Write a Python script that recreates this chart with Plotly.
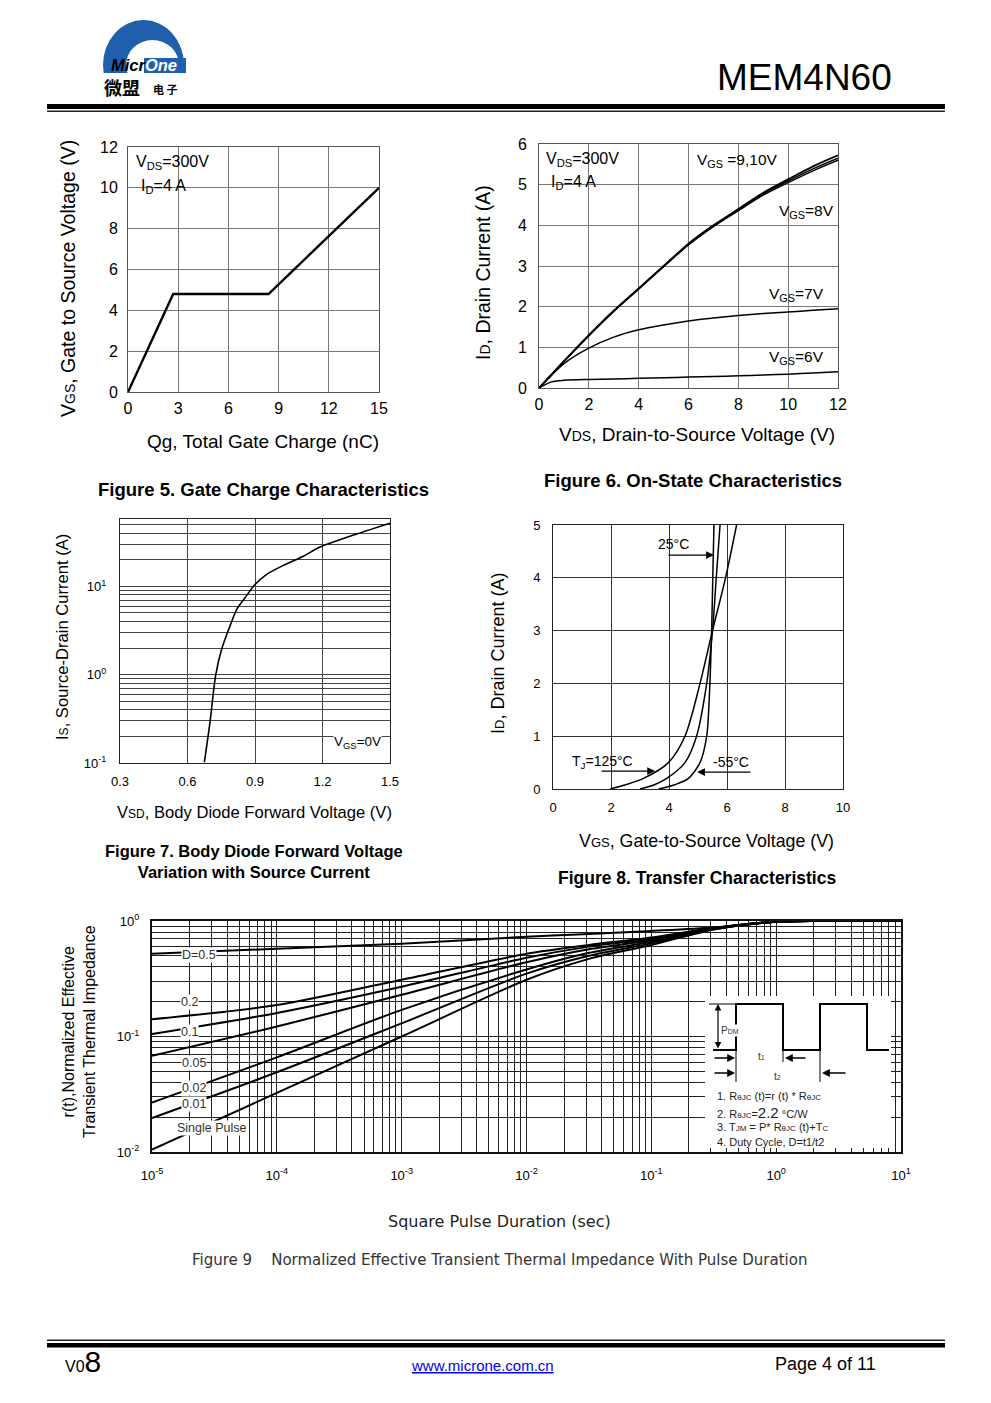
import math
import plotly.graph_objects as go

W, H = 991, 1403
def X(p): return p / W
def Y(p): return 1 - p / H
L10 = math.log10

FONT = "Arial, 'Liberation Sans', sans-serif"
WIDE = "'DejaVu Sans', Verdana, sans-serif"
CJK = "'Noto Sans CJK SC', sans-serif"

# ================= DATA =================
# Figure 5 - gate charge
qg_nc = [0, 2.7, 8.4, 15]
vgs_qg = [0, 4.8, 4.8, 10]
fig5_xticks = [0, 3, 6, 9, 12, 15]
fig5_yticks = [0, 2, 4, 6, 8, 10, 12]

# Figure 6 - on-state
vds_v = [0, 0.5, 1, 2, 3, 4, 5, 6, 7, 8, 9, 10, 11, 12]
id_vgs10 = [0, 0.33, 0.66, 1.30, 1.90, 2.45, 3.00, 3.55, 4.00, 4.40, 4.80, 5.13, 5.45, 5.72]
id_vgs9 = [0, 0.33, 0.66, 1.29, 1.89, 2.44, 2.99, 3.53, 3.98, 4.38, 4.77, 5.09, 5.39, 5.65]
id_vgs8 = [0, 0.33, 0.65, 1.28, 1.88, 2.43, 2.98, 3.52, 3.97, 4.36, 4.74, 5.05, 5.34, 5.60]
id_vgs7 = [0, 0.31, 0.60, 0.98, 1.25, 1.43, 1.55, 1.65, 1.72, 1.78, 1.83, 1.87, 1.91, 1.95]
id_vgs6 = [0, 0.15, 0.19, 0.21, 0.22, 0.24, 0.25, 0.27, 0.28, 0.30, 0.32, 0.34, 0.37, 0.40]
fig6_xticks = [0, 2, 4, 6, 8, 10, 12]
fig6_yticks = [0, 1, 2, 3, 4, 5, 6]

# Figure 7 - body diode
vsd_v = [0.675, 0.70, 0.725, 0.752, 0.789, 0.819, 0.856, 0.90, 0.952, 1.026, 1.115, 1.189, 1.322, 1.5]
is_a = [0.102, 0.29, 0.975, 1.95, 3.57, 5.5, 7.45, 10.5, 13.7, 17.3, 22, 28, 37, 52]
fig7_xticks = [0.3, 0.6, 0.9, 1.2, 1.5]
fig7_xticktext = ["0.3", "0.6", "0.9", "1.2", "1.5"]
fig7_decades = [0.1, 1, 10]
fig7_decade_text = ["10<sup>-1</sup>", "10<sup>0</sup>", "10<sup>1</sup>"]

# Figure 8 - transfer
id_levels = [0, 0.08, 0.2, 0.5, 1.0, 2.0, 3.0, 4.0, 5.0]
vgs_125c = [1.97, 2.5, 3.12, 3.98, 4.55, 5.07, 5.5, 5.95, 6.33]
vgs_25c = [3.0, 3.5, 3.92, 4.55, 4.95, 5.3, 5.5, 5.63, 5.76]
vgs_m55c = [3.64, 4.2, 4.67, 5.07, 5.3, 5.41, 5.47, 5.51, 5.55]
fig8_xticks = [0, 2, 4, 6, 8, 10]
fig8_yticks = [0, 1, 2, 3, 4, 5]

# Figure 9 - transient thermal impedance
t_s = [1e-5, 1e-4, 1e-3, 1e-2, 3.16e-2, 1e-1, 3.16e-1, 1, 10]
r_d05 = [0.52, 0.575, 0.635, 0.73, 0.77, 0.82, 0.88, 0.985, 1.0]
r_d02 = [0.141, 0.187, 0.31, 0.52, 0.62, 0.72, 0.87, 0.985, 1.0]
r_d01 = [0.105, 0.16, 0.27, 0.48, 0.60, 0.70, 0.865, 0.985, 1.0]
r_d005 = [0.068, 0.122, 0.23, 0.44, 0.57, 0.68, 0.86, 0.985, 1.0]
r_d002 = [0.0268, 0.066, 0.17, 0.38, 0.53, 0.66, 0.855, 0.985, 1.0]
r_d001 = [0.0197, 0.049, 0.13, 0.35, 0.50, 0.64, 0.85, 0.985, 1.0]
r_single = [0.0105, 0.0325, 0.10, 0.31, 0.47, 0.62, 0.845, 0.985, 1.0]
fig9_xdecades = [1e-5, 1e-4, 1e-3, 1e-2, 1e-1, 1, 10]
fig9_xdecade_text = ["10<sup>-5</sup>", "10<sup>-4</sup>", "10<sup>-3</sup>", "10<sup>-2</sup>",
                     "10<sup>-1</sup>", "10<sup>0</sup>", "10<sup>1</sup>"]
fig9_ydecades = [0.01, 0.1, 1]
fig9_ydecade_text = ["10<sup>-2</sup>", "10<sup>-1</sup>", "10<sup>0</sup>"]


def log_grid(decades, labels, top):
    vals, text = [], []
    for d, lab in zip(decades, labels):
        for k in range(1, 10):
            v = d * k
            if v > top * 1.0001:
                break
            vals.append(v)
            text.append(lab if k == 1 else "")
    return vals, text


def axis(domain, rng, tickvals, ticktext=None, size=16, standoff=0, anchor=None,
         typ="linear", grid="#777", line="#555", lw=1, gw=1):
    d = dict(domain=domain, range=rng, type=typ, tickmode="array", tickvals=tickvals,
             showgrid=True, gridcolor=grid, gridwidth=gw, showline=True, linecolor=line,
             linewidth=lw, mirror=True, ticks="", zeroline=False,
             tickfont=dict(size=size, family=FONT, color="black"),
             ticklabelstandoff=standoff, anchor=anchor, automargin=False, fixedrange=True)
    if ticktext is not None:
        d["ticktext"] = ticktext
    return d


fig = go.Figure()

def line(x, y, ax, w=1.6, shape="spline"):
    fig.add_trace(go.Scatter(x=x, y=y, mode="lines", xaxis="x" + ax, yaxis="y" + ax,
                             line=dict(color="black", width=w, shape=shape, smoothing=0.8),
                             hoverinfo="skip", showlegend=False))

# Fig 5
line(qg_nc, vgs_qg, "", w=2.4, shape="linear")
# Fig 6
for arr, w in [(id_vgs10, 1.8), (id_vgs9, 1.4), (id_vgs8, 1.4), (id_vgs7, 1.5), (id_vgs6, 1.5)]:
    line(vds_v, arr, "2", w=w)
# Fig 7
line(vsd_v, is_a, "3", w=1.6)
# Fig 8
for arr in [vgs_125c, vgs_25c, vgs_m55c]:
    line(arr, id_levels, "4", w=1.5)
# Fig 9
for arr in [r_d05, r_d02, r_d01, r_d005, r_d002, r_d001, r_single]:
    line(t_s, arr, "5", w=2.0)

# axes
f7_yvals, f7_ytext = log_grid(fig7_decades, fig7_decade_text, 58)
f9_xvals, f9_xtext = log_grid(fig9_xdecades, fig9_xdecade_text, 10)
f9_yvals, f9_ytext = log_grid(fig9_ydecades, fig9_ydecade_text, 1)

layout_axes = dict(
    xaxis=axis([X(128), X(379)], [0, 15], fig5_xticks, size=16, standoff=2, anchor="y"),
    yaxis=axis([Y(392), Y(147)], [0, 12], fig5_yticks, size=16, standoff=6, anchor="x"),
    xaxis2=axis([X(539), X(838)], [0, 12], fig6_xticks, size=16, standoff=2, anchor="y2"),
    yaxis2=axis([Y(388), Y(144)], [0, 6], fig6_yticks, size=16, standoff=8, anchor="x2"),
    xaxis3=axis([X(120), X(390)], [0.3, 1.5], fig7_xticks, fig7_xticktext, size=13,
                standoff=6, anchor="y3", grid="#444", line="#222"),
    yaxis3=axis([Y(763), Y(519)], [-1, L10(58)], f7_yvals, f7_ytext, size=13,
                standoff=10, anchor="x3", typ="log", grid="#444", line="#222"),
    xaxis4=axis([X(553), X(843)], [0, 10], fig8_xticks, size=13, standoff=6, anchor="y4",
                grid="#333", line="#222"),
    yaxis4=axis([Y(789), Y(525)], [0, 5], fig8_yticks, size=13, standoff=9, anchor="x4",
                grid="#333", line="#222"),
    xaxis5=axis([X(152), X(901)], [-5, 1], f9_xvals, f9_xtext, size=13, standoff=10,
                anchor="y5", typ="log", grid="#222", line="#111", lw=2),
    yaxis5=axis([Y(1152), Y(921)], [-2, 0], f9_yvals, f9_ytext, size=13, standoff=8,
                anchor="x5", typ="log", grid="#222", line="#111", lw=2),
)

ann = []
def txt(x, y, s, size=15, xanchor="center", yanchor="middle", color="black",
        family=FONT, angle=0, bg=None, xref="paper", yref="paper"):
    d = dict(x=X(x) if xref == "paper" else x, y=Y(y) if yref == "paper" else y,
             xref=xref, yref=yref, text=s, showarrow=False,
             font=dict(size=size, color=color, family=family),
             xanchor=xanchor, yanchor=yanchor, textangle=angle, borderpad=0)
    if bg:
        d["bgcolor"] = bg
    ann.append(d)

def darrow(hx, hy, tx, ty, xr, yr, side="end", w=1.2, size=1.3):
    ann.append(dict(x=hx, y=hy, ax=tx, ay=ty, xref=xr, yref=yr, axref=xr, ayref=yr,
                    text="", showarrow=True, arrowhead=2, arrowsize=size, arrowwidth=w,
                    arrowcolor="black", arrowside=side))

def parrow(hx, hy, tx, ty, side="end", w=1.3, size=1.2):
    ann.append(dict(x=X(hx), y=Y(hy), ax=tx - hx, ay=ty - hy, xref="paper", yref="paper",
                    axref="pixel", ayref="pixel", text="", showarrow=True, arrowhead=2,
                    arrowsize=size, arrowwidth=w, arrowcolor="black", arrowside=side))

# ---- header / footer text ----
txt(893, 77, "MEM4N60", size=37, xanchor="right")
txt(144, 65, "<b><i>Micr<span style='color:white'>One</span></i></b>", size=16.5)
txt(103, 87, "<b>微盟</b>", size=18, xanchor="left", family=CJK)
txt(152, 89, "<b>电 子</b>", size=11, xanchor="left", family=CJK)
txt(64, 1361, "V0<span style='font-size:30px'>8</span>", size=16, xanchor="left")
txt(482, 1365, "<u>www.microne.com.cn</u>", size=15, color="#0000ee")
txt(877, 1364, "Page 4 of 11", size=18, xanchor="right")

# ---- Figure 5 ----
txt(0.42, 11.26, "V<sub>DS</sub>=300V", size=16, xanchor="left", xref="x", yref="y")
txt(0.70, 10.05, "I<sub>D</sub>=4 A", size=16, xanchor="left", xref="x", yref="y")
txt(263, 442, "Qg, Total Gate Charge (nC)", size=19)
txt(68, 279, "V<span style='font-size:14px'>GS</span>, Gate to Source Voltage (V)", size=19.5, angle=-90)
txt(263, 489, "<b>Figure 5. Gate Charge Characteristics</b>", size=18.5)

# ---- Figure 6 ----
txt(0.24, 5.63, "V<sub>DS</sub>=300V", size=16, xanchor="left", xref="x2", yref="y2")
txt(0.44, 5.05, "I<sub>D</sub>=4 A", size=16, xanchor="left", xref="x2", yref="y2")
txt(6.3, 5.6, "V<sub>GS</sub> =9,10V", size=15.5, xanchor="left", xref="x2", yref="y2")
txt(9.59, 4.35, "V<sub>GS</sub>=8V", size=15.5, xanchor="left", xref="x2", yref="y2")
txt(9.19, 2.31, "V<sub>GS</sub>=7V", size=15.5, xanchor="left", xref="x2", yref="y2")
txt(9.19, 0.74, "V<sub>GS</sub>=6V", size=15.5, xanchor="left", xref="x2", yref="y2")
txt(697, 434, "V<span style='font-size:14px'>DS</span>, Drain-to-Source Voltage (V)", size=19)
txt(483, 273, "I<span style='font-size:14px'>D</span>, Drain Current (A)", size=19.5, angle=-90)
txt(693, 480, "<b>Figure 6. On-State Characteristics</b>", size=18.5)

# ---- Figure 7 ----
txt(1.247, L10(0.169), "V<sub>GS</sub>=0V", size=13.5, xanchor="left", bg="white",
    xref="x3", yref="y3")
txt(254, 812, "V<span style='font-size:12px'>SD</span>, Body Diode Forward Voltage (V)", size=16.6)
txt(62, 637, "I<span style='font-size:12px'>S</span>, Source-Drain Current (A)", size=16.6, angle=-90)
txt(254, 861, "<b>Figure 7. Body Diode Forward Voltage<br>Variation with Source Current</b>", size=16.5)

# ---- Figure 8 ----
txt(4.14, 4.64, "25°C", size=14, xref="x4", yref="y4")
darrow(5.55, 4.43, 3.93, 4.43, "x4", "y4")
txt(1.69, 0.51, "T<sub>J</sub>=125°C", size=14, xref="x4", yref="y4")
darrow(3.52, 0.34, 1.62, 0.34, "x4", "y4")
txt(6.14, 0.51, "-55°C", size=14, xref="x4", yref="y4")
darrow(4.97, 0.32, 6.86, 0.32, "x4", "y4")
txt(706, 841, "V<span style='font-size:13px'>GS</span>, Gate-to-Source Voltage (V)", size=17.8)
txt(498, 654, "I<span style='font-size:13px'>D</span>, Drain Current (A)", size=18, angle=-90)
txt(697, 878, "<b>Figure 8. Transfer Characteristics</b>", size=17.5)

# ---- Figure 9 ----
for s, tx, rv in [("D=0.5", 2.37e-5, 0.506), ("0.2", 2.01e-5, 0.199), ("0.1", 2.01e-5, 0.109),
                  ("0.05", 2.17e-5, 0.059), ("0.02", 2.17e-5, 0.0359), ("0.01", 2.17e-5, 0.0261),
                  ("Single Pulse", 3.02e-5, 0.0162)]:
    txt(L10(tx), L10(rv), s, size=12.5, color="#333", bg="white", xref="x5", yref="y5")
txt(499, 1221, "Square Pulse Duration (sec)", size=16, family=WIDE, color="#222")
txt(79, 1032, "r(t),Normalized Effective<br>Transient Thermal Impedance", size=16, angle=-90)
txt(499, 1260, "Figure 9&nbsp;&nbsp;&nbsp; Normalized Effective Transient Thermal Impedance With Pulse Duration",
    size=15, color="#333", family=WIDE)

# inset text
txt(720, 1030, "P<span style='font-size:7px'>DM</span>", size=10, xanchor="left", color="#333", bg="white")
txt(757, 1056, "t<span style='font-size:7px'>1</span>", size=10, xanchor="left", color="#333")
txt(773, 1076, "t<span style='font-size:7px'>2</span>", size=10, xanchor="left", color="#333")
txt(716, 1096, "1. R<span style='font-size:8px'>θJC</span> (t)=r (t) * R<span style='font-size:8px'>θJC</span>",
    size=11, xanchor="left", color="#222")
txt(716, 1112, "2. R<span style='font-size:8px'>θJC</span>=<span style='font-size:15px'>2.2</span> °C/W",
    size=11, xanchor="left", color="#222")
txt(716, 1127, "3. T<span style='font-size:8px'>JM</span> = P* R<span style='font-size:8px'>θJC</span> (t)+T<span style='font-size:8px'>C</span>",
    size=11, xanchor="left", color="#222")
txt(716, 1142, "4. Duty Cycle, D=t1/t2", size=11, xanchor="left", color="#222")

parrow(718, 1004, 718, 1050, side="end+start", w=1.2, size=1.1)
parrow(735, 1058, 713, 1058)
parrow(785, 1058, 807, 1058)
parrow(735, 1073, 713, 1073)
parrow(822, 1073, 847, 1073)

# ---- shapes ----
shapes = []
def rect(x0, y0, x1, y1, fill, lw=0, lc=None):
    shapes.append(dict(type="rect", xref="paper", yref="paper", x0=X(x0), x1=X(x1),
                       y0=Y(y1), y1=Y(y0), fillcolor=fill,
                       line=dict(width=lw, color=lc or fill)))
def seg(x0, y0, x1, y1, w=1, c="black"):
    shapes.append(dict(type="line", xref="paper", yref="paper", x0=X(x0), x1=X(x1),
                       y0=Y(y0), y1=Y(y1), line=dict(width=w, color=c)))

# logo
BLUE = "#1f5fae"
shapes.append(dict(type="circle", xref="paper", yref="paper", x0=X(103), x1=X(184),
                   y0=Y(110), y1=Y(20), fillcolor=BLUE, line=dict(width=0)))
shapes.append(dict(type="circle", xref="paper", yref="paper", x0=X(126), x1=X(179),
                   y0=Y(90), y1=Y(40), fillcolor="white", line=dict(width=0)))
rect(98, 73, 190, 114, "white")
rect(144, 58, 186, 73, BLUE)

# header/footer rules
rect(47, 104, 945, 109, "black")
rect(47, 110.5, 945, 112, "#222")
rect(47, 1339.5, 945, 1341, "#222")
rect(47, 1343, 945, 1347.5, "black")

# fig 9 inset
rect(705, 996, 891, 1148, "white")
shapes.append(dict(type="path", xref="paper", yref="paper",
                   path="M{},{} L{},{} L{},{} L{},{} L{},{} L{},{} L{},{} L{},{} L{},{} L{},{}".format(
                       X(713), Y(1050), X(736), Y(1050), X(736), Y(1004), X(783), Y(1004),
                       X(783), Y(1050), X(820), Y(1050), X(820), Y(1004), X(867), Y(1004),
                       X(867), Y(1050), X(889), Y(1050)),
                   line=dict(color="black", width=2)))
seg(709, 1004, 736, 1004, 1)
seg(736, 1050, 736, 1082, 1)
seg(783, 1050, 783, 1062, 1)
seg(820, 1050, 820, 1082, 1)

fig.update_layout(
    width=W, height=H, margin=dict(l=0, r=0, t=0, b=0),
    paper_bgcolor="white", plot_bgcolor="white", template="none",
    font=dict(family=FONT, color="black"), showlegend=False,
    annotations=ann, shapes=shapes, **layout_axes)

fig.write_html("out.html", config={"displayModeBar": False},
               post_script="document.body.style.margin='0';document.body.style.padding='0';")
